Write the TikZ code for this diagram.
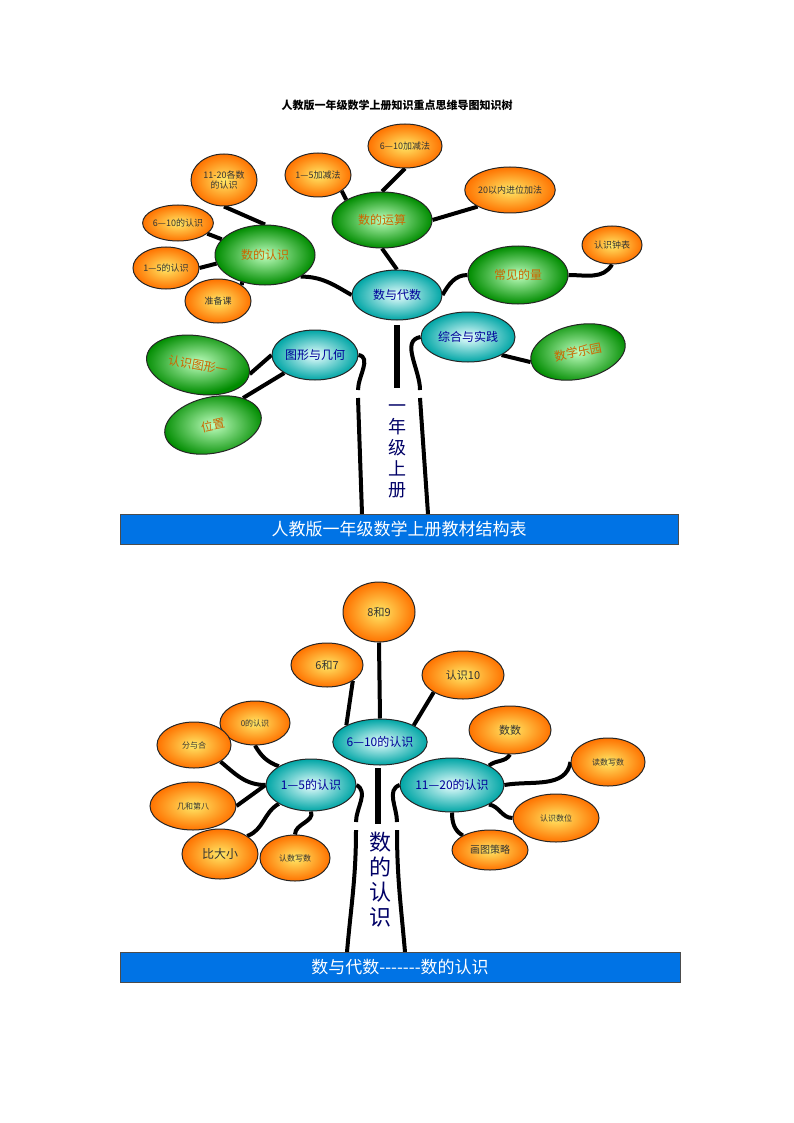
\documentclass[tikz,border=0pt]{standalone}
\usepackage{fontspec}
\setmainfont{Noto Sans CJK SC}
\newfontfamily\serifb{Liberation Serif}
\usetikzlibrary{shapes.geometric,backgrounds}
\tikzset{
 x=1pt,y=-1pt,
 el/.style={ellipse,draw=black!85,line width=1pt,inner sep=0pt,align=center},
 org/.style={el,inner color=yellow!70!orange!60,outer color=orange!90!red,text=black!80,font=\fontsize{9}{10}\selectfont},
 grn/.style={el,inner color=green!25!white,outer color=green!55!black,text=orange!80!black,font=\fontsize{12}{13}\selectfont},
 cyn/.style={el,inner color=cyan!8,outer color=teal!70!cyan,text=blue!60!black,font=\fontsize{12}{13}\selectfont},
 br/.style={line width=4pt,black},
 bar/.style={fill=blue!50!cyan!90!black,draw=black!70,line width=0.8pt},
}
\newcommand{\E}[5]{\node[#1,minimum width=#4*2pt,minimum height=#5*2pt] (#2) at (#3) }
\begin{document}
\begin{tikzpicture}
\useasboundingbox (0,0) rectangle (794,1123);
\node[font=\bfseries\fontsize{11}{12}\selectfont] (title) at (397,105) {人教版一年级数学上册知识重点思维导图知识树};
% ---------- top tree ----------
\node[bar,minimum width=558pt,minimum height=30pt,inner sep=0pt,text=white,font=\fontsize{17}{19}\selectfont] (bar1) at (399,529) {人教版一年级数学上册教材结构表};
\E{cyn}{sdai}{397,295}{45}{25} {数与代数};
\E{grn}{sren}{265,255}{50}{30} {数的认识};
\E{grn}{syun}{382,220}{50}{28} {数的运算};
\E{grn}{cjl}{518,275}{50}{29} {常见的量};
\E{cyn}{txjh}{315,355}{43}{25} {图形与几何};
\E{cyn}{zhsj}{468,337}{47}{25} {综合与实践};
\E{grn,rotate=-10}{rstx}{198,365}{52}{29} {认识图形一};
\E{grn,rotate=12}{wz}{213,425}{49}{28} {位置};
\E{grn,rotate=12}{sxly}{578,352}{48}{27} {数学乐园};
\E{org}{o1}{224,180}{33}{26} {11-20各数\\的认识};
\E{org}{o2}{178,223}{35}{18} {6—10的认识};
\E{org}{o3}{166,268}{33}{21} {1—5的认识};
\E{org}{o4}{218,301}{33}{22} {准备课};
\E{org}{o5}{318,175}{33}{22} {1—5加减法};
\E{org}{o6}{405,146}{37}{22} {6—10加减法};
\E{org}{o7}{510,190}{43}{23} {20以内进位加法};
\E{org}{o8}{612,245}{30}{19} {认识钟表};
\node[text=blue!40!black,font=\fontsize{18}{21}\selectfont,align=center,inner sep=0pt] (t1) at (397,451) {一\\年\\级\\上\\册};
\begin{scope}[on background layer]
\draw[br] (sdai.west) to[out=150,in=0] (sren.south east);
\draw[br] (sdai.north) -- (syun.south);
\draw[br] (sdai.east) to[out=60,in=180] (cjl.west);
\draw[br] (sren.north) -- (o1.south);
\draw[br] (sren.160) -- (o2.-20);
\draw[br] (sren.190) -- (o3.east);
\draw[br] (sren.230) -- (o4.north east);
\draw[br] (syun.north west) -- (o5.south east);
\draw[br] (syun.north) -- (o6.south);
\draw[br] (syun.east) -- (o7.south west);
\draw[br] (cjl.east) to[out=0,in=-120] (o8.south);
\draw[br] (txjh.west) -- (rstx.east);
\draw[br] (txjh.south west) -- (wz.north east);
\draw[br] (zhsj.south east) -- (sxly.west);
\coordinate (c1) at (397,325); \coordinate (c2) at (397,388);
\draw[line width=6pt] (c1) -- (c2);
\coordinate (l0) at (362,514); \coordinate (l1) at (358,398); \coordinate (l2) at (358,390);
\draw[br] (l0) -- (l1); \draw[br] (l2) to[out=90,in=-10] (txjh.east);
\coordinate (r0) at (428,514); \coordinate (r1) at (420,398); \coordinate (r2) at (420,390);
\draw[br] (r0) -- (r1); \draw[br] (r2) to[out=90,in=190] (zhsj.west);
\end{scope}
% ---------- bottom tree ----------
\node[bar,minimum width=560pt,minimum height=30pt,inner sep=0pt,text=white,font=\fontsize{17}{19}\selectfont] (bar2) at (400,967) {数与代数{-}{-}{-}{-}{-}{-}{-}数的认识};
\E{cyn}{a610}{380,742}{43}{23} {6—10的认识};
\E{cyn}{a15}{311,785}{45}{26} {1—5的认识};
\E{cyn}{a1120}{452,785}{45}{27} {11—20的认识};
\E{org,font=\fontsize{11}{12}\selectfont}{b1}{379,612}{36}{30} {8和9};
\E{org,font=\fontsize{11}{12}\selectfont}{b2}{327,665}{36}{22} {6和7};
\E{org,font=\fontsize{11}{12}\selectfont}{b3}{463,675}{41}{24} {认识10};
\E{org,font=\fontsize{8}{9}\selectfont}{b4}{255,723}{35}{22} {0的认识};
\E{org,font=\fontsize{8}{9}\selectfont}{b5}{194,745}{37}{23} {分与合};
\E{org,font=\fontsize{8}{9}\selectfont}{b6}{193,806}{43}{24} {几和第八};
\E{org,font=\fontsize{12}{13}\selectfont}{b7}{220,854}{38}{25} {比大小};
\E{org,font=\fontsize{8}{9}\selectfont}{b8}{295,858}{35}{23} {认数写数};
\E{org,font=\fontsize{11}{12}\selectfont}{b9}{510,730}{41}{24} {数数};
\E{org,font=\fontsize{8}{9}\selectfont}{b10}{608,762}{37}{24} {读数写数};
\E{org,font=\fontsize{8}{9}\selectfont}{b11}{556,818}{43}{24} {认识数位};
\E{org,font=\fontsize{10}{11}\selectfont}{b12}{490,850}{38}{20} {画图策略};
\node[text=blue!40!black,font=\fontsize{22}{25}\selectfont,align=center,inner sep=0pt] (t2) at (380,880) {数\\的\\认\\识};
\begin{scope}[on background layer]
\draw[br] (a610.north) -- (b1.south);
\draw[br] (a610.north west) -- (b2.south east);
\draw[br] (a610.north east) -- (b3.south west);
\draw[br] (a15.north west) to[out=160,in=-60] (b4.south);
\draw[br] (a15.west) to[out=180,in=-40] (b5.south east);
\draw[br] (a15.west) -- (b6.east);
\draw[br] (a15.south west) to[out=-150,in=20] (b7.north east);
\draw[br] (a15.south) to[out=-70,in=90] (b8.north);
\draw[br] (a1120.north east) to[out=40,in=-120] (b9.south);
\draw[br] (a1120.east) to[out=10,in=-100] (b10.west);
\draw[br] (a1120.south east) to[out=-10,in=180] (b11.west);
\draw[br] (a1120.south) to[out=-90,in=150] (b12.north west);
\coordinate (d1) at (378,768); \coordinate (d2) at (378,824);
\draw[line width=6pt] (d1) -- (d2);
\coordinate (m0) at (347,952); \coordinate (m1) at (356,830); \coordinate (m2) at (356,822);
\draw[br] (m0) to[out=85,in=-90] (m1); \draw[br] (m2) to[out=90,in=-30] (a15.east);
\coordinate (n0) at (405,952); \coordinate (n1) at (397,830); \coordinate (n2) at (397,822);
\draw[br] (n0) to[out=95,in=-90] (n1); \draw[br] (n2) to[out=90,in=200] (a1120.west);
\end{scope}
\end{tikzpicture}
\end{document}
